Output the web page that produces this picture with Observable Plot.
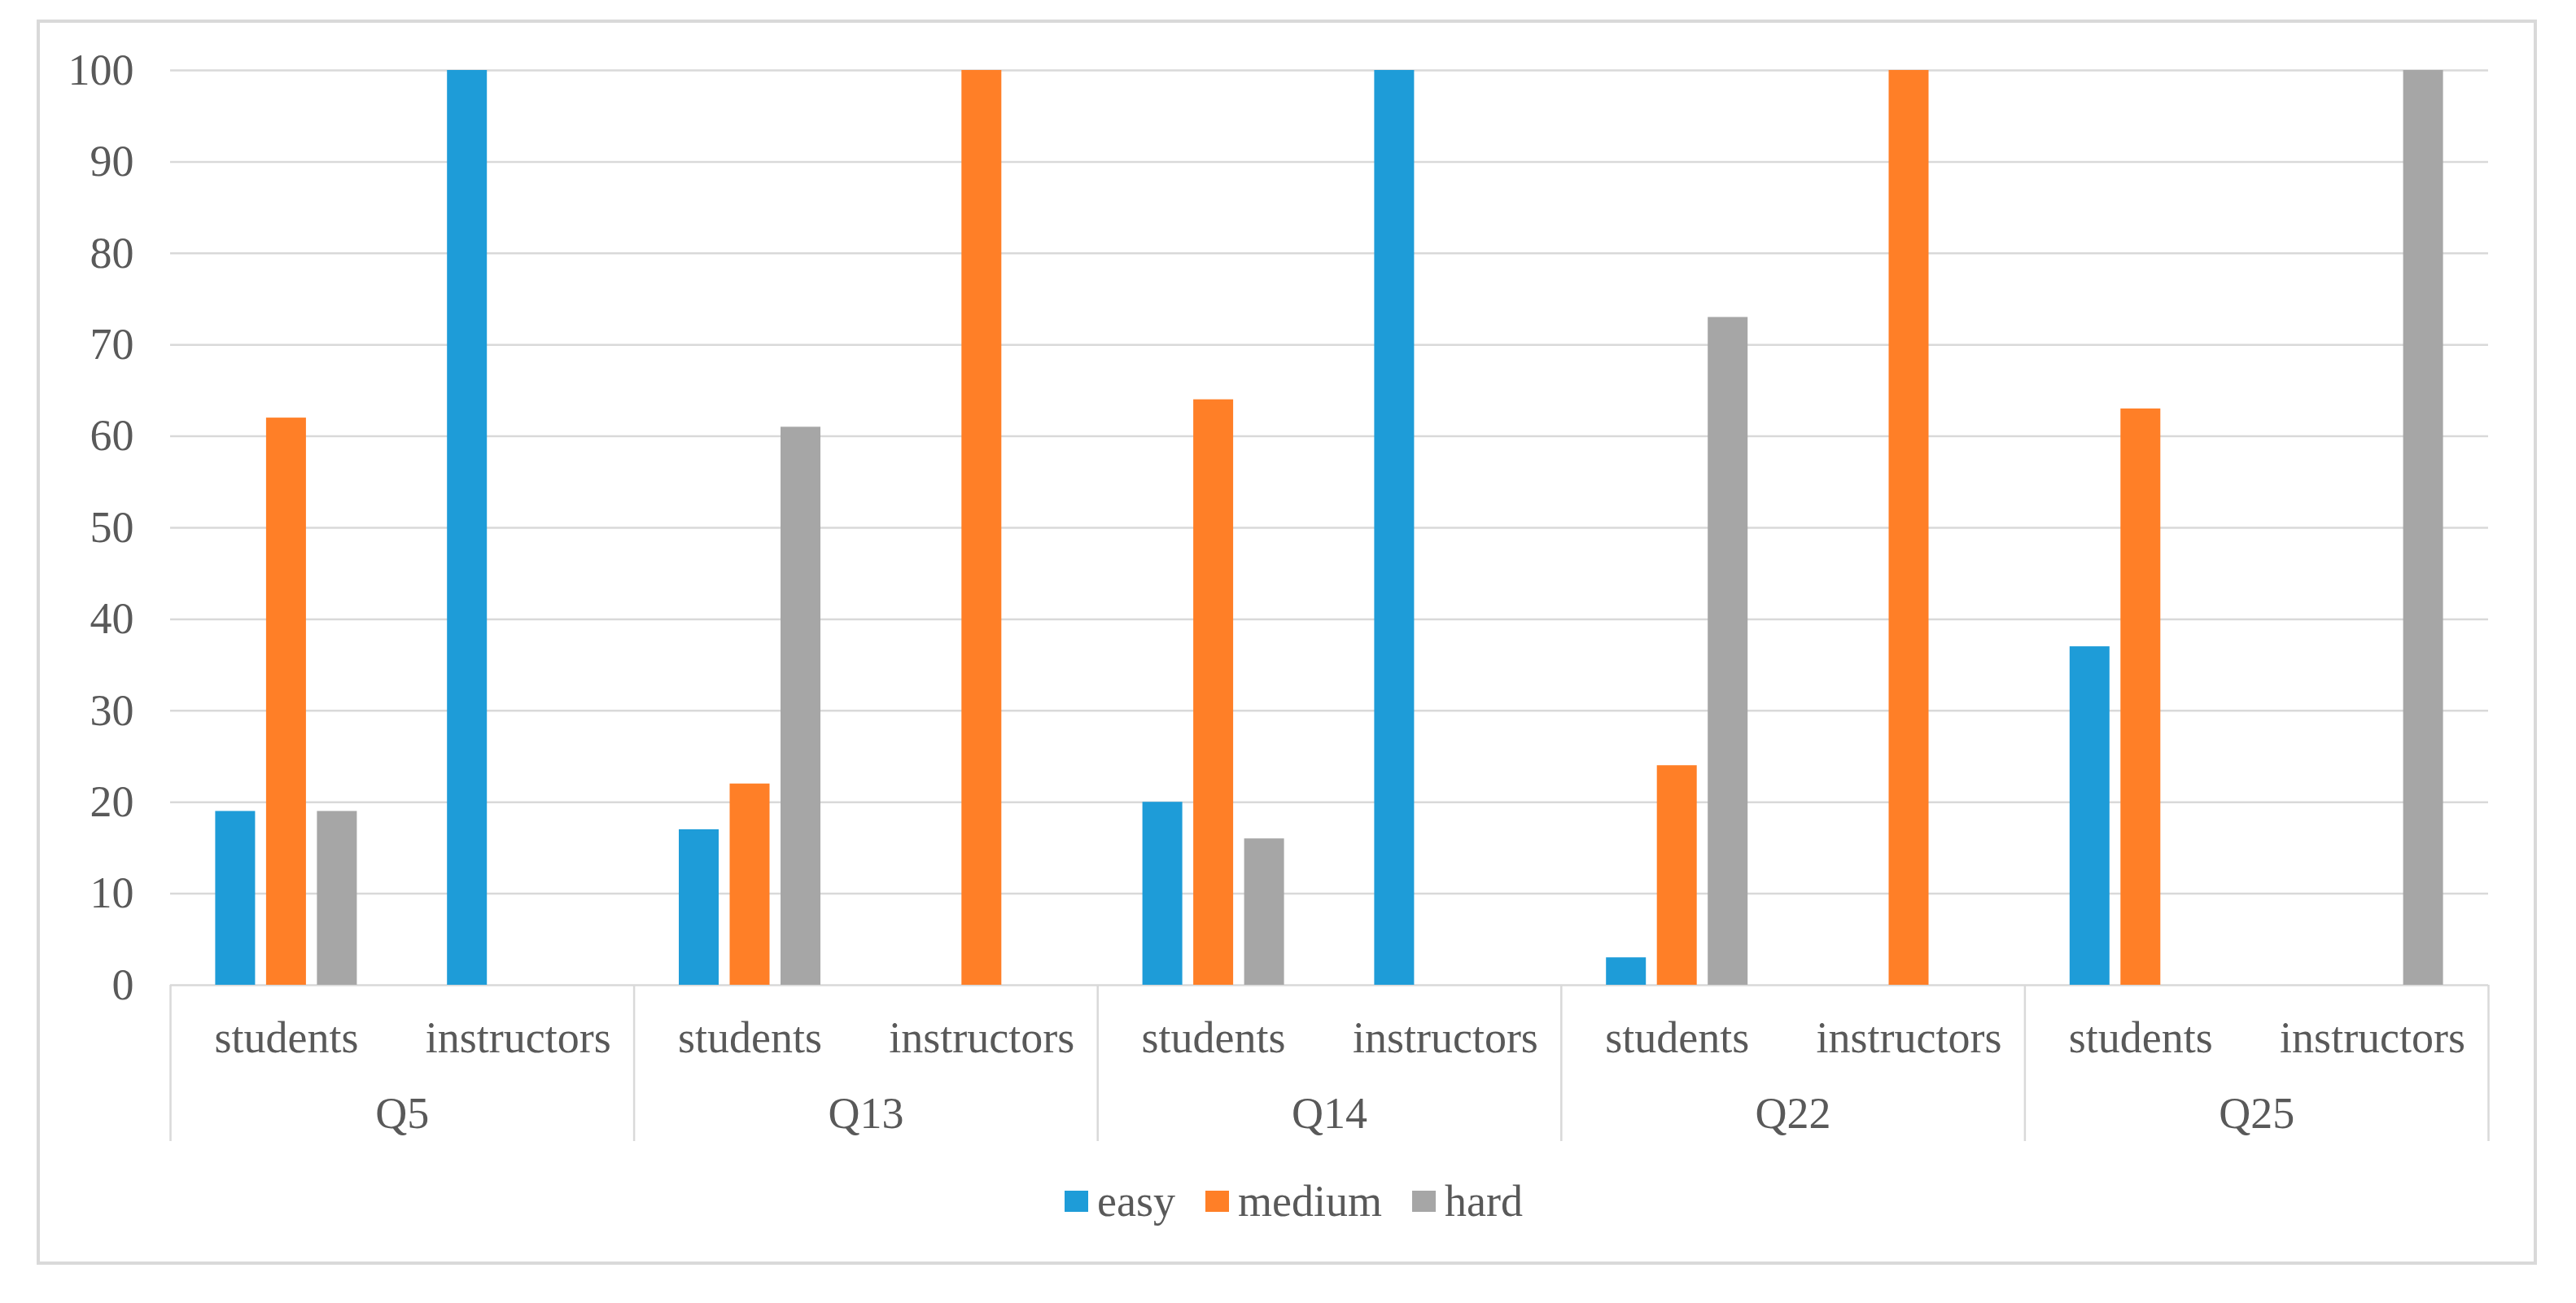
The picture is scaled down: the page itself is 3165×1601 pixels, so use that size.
<!DOCTYPE html>
<html><head><meta charset="utf-8">
<script src="https://cdn.jsdelivr.net/npm/d3@7"></script>
<script src="https://cdn.jsdelivr.net/npm/@observablehq/plot@0.6"></script>
<style>
html,body{margin:0;padding:0;background:#fff;width:3165px;height:1601px;overflow:hidden;}
#chart{position:absolute;left:0;top:0;}
#frame{position:absolute;left:45px;top:24px;width:3072px;height:1530px;border:4px solid #d9d9d9;box-sizing:border-box;pointer-events:none;}
#legend{position:absolute;left:1308px;top:1448px;height:56px;display:flex;align-items:center;font-family:'Liberation Serif','Times New Roman',serif;font-size:54px;color:#595959;white-space:nowrap;}
.item{display:flex;align-items:center;margin-right:37px;}
.sw{width:29px;height:26px;margin-right:11px;}
</style></head><body>
<div id="chart"></div><div id="legend"></div><div id="frame"></div>
<script>
// ---- data ----
const questions = ["Q5", "Q13", "Q14", "Q22", "Q25"];
const groups = ["students", "instructors"];
const levels = ["easy", "medium", "hard"];
// values in order: Q5 students, Q5 instructors, Q13 students, Q13 instructors, ...
const easyValues   = [19, 100, 17, 0, 20, 100, 3, 0, 37, 0];
const mediumValues = [62, 0, 22, 100, 64, 0, 24, 100, 63, 0];
const hardValues   = [19, 0, 61, 0, 16, 0, 73, 0, 0, 100];
const yTicks = [0, 10, 20, 30, 40, 50, 60, 70, 80, 90, 100];
const levelColors = ["#1e9cd8", "#ff7f27", "#a6a6a6"];

// ---- layout ----
const W = 3165, H = 1420;
const plotLeft = 209, plotRight = 3057, plotTop = 86, plotBottom = 1210;
const bw = (plotRight - plotLeft) / questions.length;
const slot = 62.5, barW = 49;
const inset = (bw - barW) / 2;
const font = "'Liberation Serif', 'Times New Roman', serif";
const textColor = "#595959";
const gridColor = "#d9d9d9";

const seriesValues = {easy: easyValues, medium: mediumValues, hard: hardValues};
const rows = [];
questions.forEach((q, qi) => groups.forEach((g, gi) => levels.forEach((l) => {
  rows.push({question: q, group: g, level: l, value: seriesValues[l][qi * groups.length + gi]});
})));
const labelRows = [];
questions.forEach(q => groups.forEach(g => labelRows.push({question: q, group: g})));

const barMarks = [];
groups.forEach((g, gi) => levels.forEach((l, li) => {
  barMarks.push(Plot.barY(rows.filter(d => d.group === g && d.level === l && d.value > 0), {
    x: "question", y: "value", fill: levelColors[li],
    insetLeft: inset, insetRight: inset,
    dx: (gi === 0 ? -bw / 4 : bw / 4) + (li - 1) * slot
  }));
}));

const chart = Plot.plot({
  width: W, height: H,
  marginLeft: plotLeft, marginRight: W - plotRight, marginTop: plotTop, marginBottom: H - plotBottom,
  style: {fontFamily: font, fontSize: "54px", color: textColor, background: "transparent", overflow: "visible"},
  x: {type: "band", domain: questions, padding: 0, round: false, axis: null},
  y: {domain: [0, 100], axis: null},
  marks: [
    Plot.gridY(yTicks, {stroke: gridColor, strokeOpacity: 1, strokeWidth: 2.5}),
    ...barMarks,
    Plot.axisY(yTicks, {tickSize: 0, tickPadding: 45, fontSize: 54, fill: textColor, label: null}),
    // group separators below the axis
    Plot.axisX({ticks: questions, tickSize: 192, tickFormat: () => "", stroke: gridColor, strokeWidth: 2.5, dx: -bw / 2, label: null}),
    Plot.axisX({ticks: questions.slice(-1), tickSize: 192, tickFormat: () => "", stroke: gridColor, strokeWidth: 2.5, dx: bw / 2, label: null}),
    ...groups.map((g, gi) => Plot.text(labelRows.filter(d => d.group === g), {
      x: "question", text: "group", frameAnchor: "bottom", lineAnchor: "bottom",
      dy: 82, dx: gi === 0 ? -bw / 4 : bw / 4, fontSize: 54, fill: textColor
    })),
    Plot.text(questions, {x: d => d, text: d => d, frameAnchor: "bottom", lineAnchor: "bottom", dy: 175, fontSize: 54, fill: textColor})
  ]
});
document.getElementById("chart").appendChild(chart);

// legend
const legend = document.getElementById("legend");
levels.forEach((l, li) => {
  const item = document.createElement("div");
  item.className = "item";
  const sw = document.createElement("span");
  sw.className = "sw";
  sw.style.background = levelColors[li];
  const t = document.createElement("span");
  t.textContent = l;
  item.appendChild(sw); item.appendChild(t);
  legend.appendChild(item);
});
</script>
</body></html>
